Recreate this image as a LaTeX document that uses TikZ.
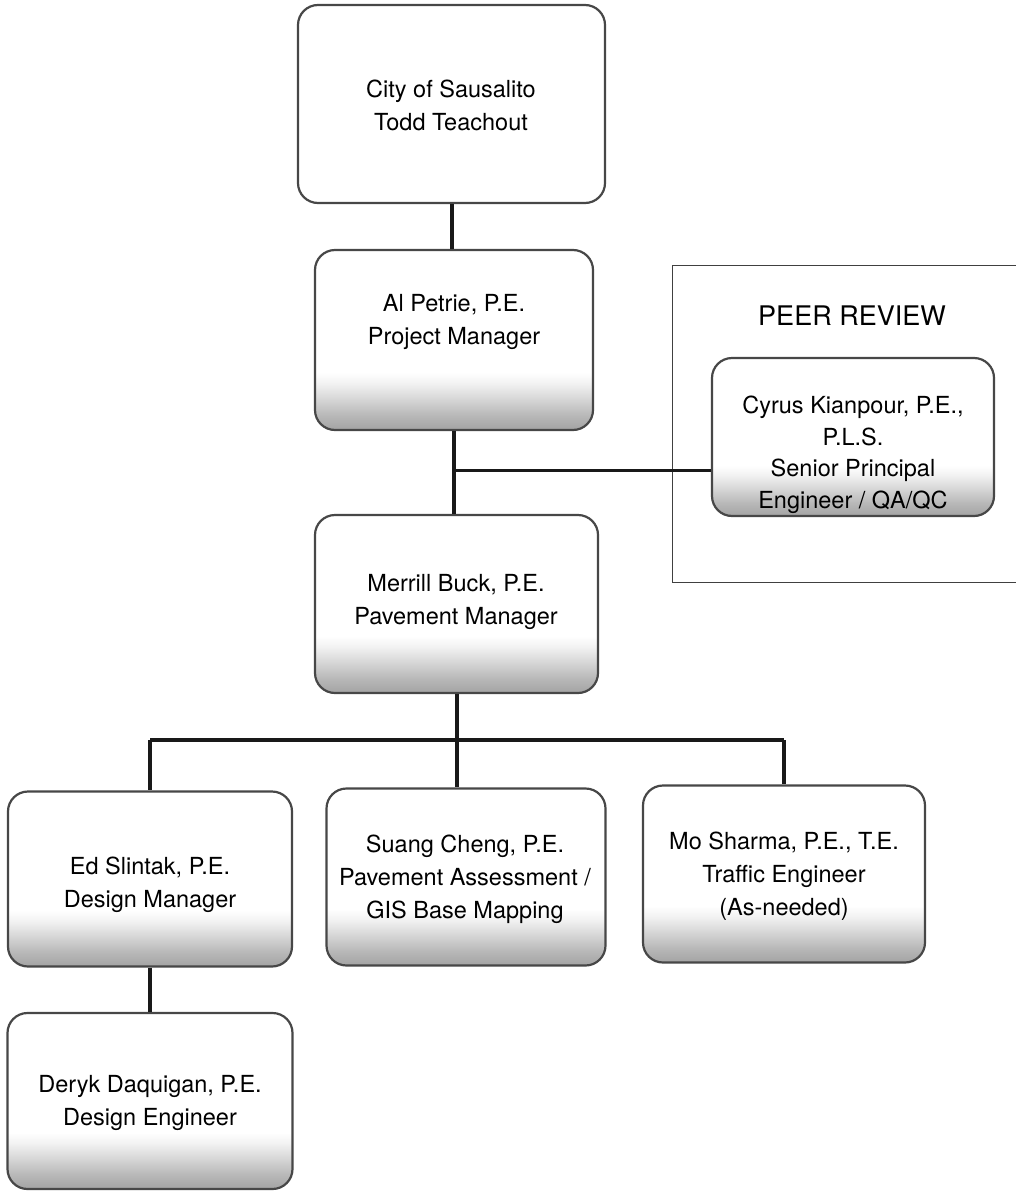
\documentclass[tikz,border=0pt]{standalone}
\usepackage{fontspec}
\setmainfont{TeX Gyre Heros}
\pgfdeclareverticalshading{speck}{100bp}{color(0bp)=(black!36); color(25bp)=(black!36); color(29bp)=(black!28); color(34bp)=(black!15); color(38bp)=(black!5); color(41bp)=(white); color(100bp)=(white)}
\begin{document}
\begin{tikzpicture}[x=1pt,y=-1pt,
  orgbox/.style={draw=black!72, line width=2.2pt, rounded corners=20pt, inner sep=0pt},
  fadebox/.style={orgbox, shading=speck},
  txt/.style={align=center, inner sep=0pt, font=\fontsize{23.5}{33}\selectfont},
  link/.style={draw=black!90, line width=4pt},
  thinlink/.style={draw=black!90, line width=3pt},
  frameline/.style={draw=black!75, line width=1pt}
]
\useasboundingbox (0,0) rectangle (1016,1191);

% boxes
\node[orgbox, minimum width=307pt, minimum height=198pt] (city) at (451.5,104) {};
\node[txt] (cityT) at (451,105) {City of Sausalito\\Todd Teachout};

\node[fadebox, minimum width=278pt, minimum height=180pt] (petrie) at (454,340) {};
\node[txt] (petrieT) at (454,322) {Al Petrie, P.E.\\Project Manager};

\node[fadebox, minimum width=283pt, minimum height=178pt] (merrill) at (456.5,604) {};
\node[txt] (merrillT) at (456,602) {Merrill Buck, P.E.\\Pavement Manager};

\node[fadebox, minimum width=282pt, minimum height=158pt] (cyrus) at (853,437) {};
\node[txt, font=\fontsize{23.5}{31.5}\selectfont] (cyrusT) at (853,455) {Cyrus Kianpour, P.E.,\\P.L.S.\\Senior Principal\\Engineer / QA/QC};

\node[fadebox, minimum width=284pt, minimum height=175pt] (ed) at (150,879) {};
\node[txt] (edT) at (150,885) {Ed Slintak, P.E.\\Design Manager};

\node[fadebox, minimum width=279pt, minimum height=177pt] (suang) at (466,877) {};
\node[txt] (suangT) at (465,879) {Suang Cheng, P.E.\\Pavement Assessment /\\GIS Base Mapping};

\node[fadebox, minimum width=282pt, minimum height=177pt] (mo) at (784,874) {};
\node[txt] (moT) at (784,876) {Mo Sharma, P.E., T.E.\\Traffic Engineer\\(As-needed)};

\node[fadebox, minimum width=285pt, minimum height=176pt] (deryk) at (150,1101) {};
\node[txt] (derykT) at (150,1103) {Deryk Daquigan, P.E.\\Design Engineer};

% peer review frame
\draw[frameline] (1016,265) -- (672,265) -- (672,582) -- (1016,582);
\node[inner sep=0pt, font=\fontsize{27}{32}\selectfont] (peer) at (852,316) {PEER REVIEW};

% connectors
\draw[link] (city.south) -- (city.south |- petrie.north);
\draw[link] (petrie.south) -- (petrie.south |- merrill.north);
\coordinate (pj) at (454,470);
\draw[thinlink] (pj) -- (pj -| cyrus.west);
\coordinate (bus) at (456.5,740);
\draw[link] (merrill.south) -- (merrill.south |- suang.north);
\draw[link] (bus -| ed.north) -- (bus -| mo.north);
\draw[link] (bus -| ed.north) -- (ed.north);
\draw[link] (bus -| mo.north) -- (mo.north);
\draw[link] (ed.south) -- (deryk.north);
\end{tikzpicture}
\end{document}
